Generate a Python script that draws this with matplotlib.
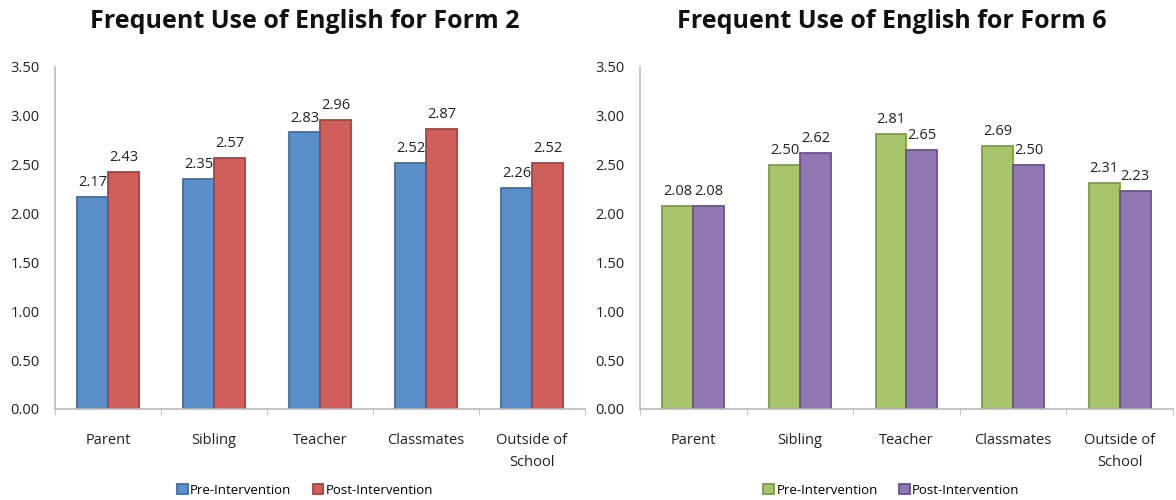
import matplotlib.pyplot as plt
import numpy as np

plt.rcParams['font.family'] = ['Open Sans', 'DejaVu Sans']

categories = ["Parent", "Sibling", "Teacher", "Classmates", "Outside of\nSchool"]
form2_pre = [2.17, 2.35, 2.83, 2.52, 2.26]
form2_post = [2.43, 2.57, 2.96, 2.87, 2.52]
form6_pre = [2.08, 2.50, 2.81, 2.69, 2.31]
form6_post = [2.08, 2.62, 2.65, 2.50, 2.23]
yticks = [0.0, 0.5, 1.0, 1.5, 2.0, 2.5, 3.0, 3.5]

panels = [
    ("Frequent Use of English for Form 2", form2_pre, form2_post,
     ("#5A8FCA", "#3E6FA6"), ("#D05F5B", "#A8423F"), [0.0468, 0.182, 0.4507, 0.684]),
    ("Frequent Use of English for Form 6", form6_pre, form6_post,
     ("#A6C46A", "#7E9E43"), ("#9079B2", "#6A5290"), [0.5442, 0.182, 0.4532, 0.684]),
]

fig = plt.figure(figsize=(11.76, 5.0), dpi=100)
width = 0.29
x = np.arange(len(categories))

for title, pre, post, c_pre, c_post, rect in panels:
    ax = fig.add_axes(rect)
    b1 = ax.bar(x - width / 2, pre, width, color=c_pre[0], edgecolor=c_pre[1],
                linewidth=1.3, label="Pre-Intervention")
    b2 = ax.bar(x + width / 2, post, width, color=c_post[0], edgecolor=c_post[1],
                linewidth=1.3, label="Post-Intervention")
    for bars in (b1, b2):
        for bar in bars:
            h = bar.get_height()
            ax.annotate(f"{h:.2f}", (bar.get_x() + bar.get_width() / 2, h),
                        xytext=(0, 5), textcoords="offset points",
                        ha="center", va="bottom", fontsize=10.5, color="#222222")

    ax.set_xlim(-0.5, len(categories) - 0.5)
    ax.set_ylim(0, 3.5)
    ax.set_yticks(yticks)
    ax.set_yticklabels([f"{t:.2f}" for t in yticks])
    ax.set_xticks(np.arange(len(categories) + 1) - 0.5, minor=True)
    ax.set_xticks(x)
    ax.set_xticklabels(categories, linespacing=1.7)
    ax.tick_params(axis="x", which="major", length=0, pad=17, labelsize=10.5, colors="#222222")
    ax.tick_params(axis="x", which="minor", length=4, color="#BBBBBB")
    ax.tick_params(axis="y", length=0, pad=11, labelsize=10.5, colors="#222222")
    for side in ("top", "right"):
        ax.spines[side].set_visible(False)
    for side in ("left", "bottom"):
        ax.spines[side].set_color("#BBBBBB")
        ax.spines[side].set_linewidth(1.2)

    ax.text(0.472, 1.132, title, transform=ax.transAxes, ha="center", va="center",
            fontsize=18, fontweight="bold", color="#111111")
    ax.legend(loc="center", bbox_to_anchor=(0.472, -0.237), ncol=2, frameon=False,
              fontsize=9.5, handlelength=0.8, handleheight=0.8, handletextpad=0.2,
              columnspacing=1.6)

fig.savefig("out.png", dpi=100)
